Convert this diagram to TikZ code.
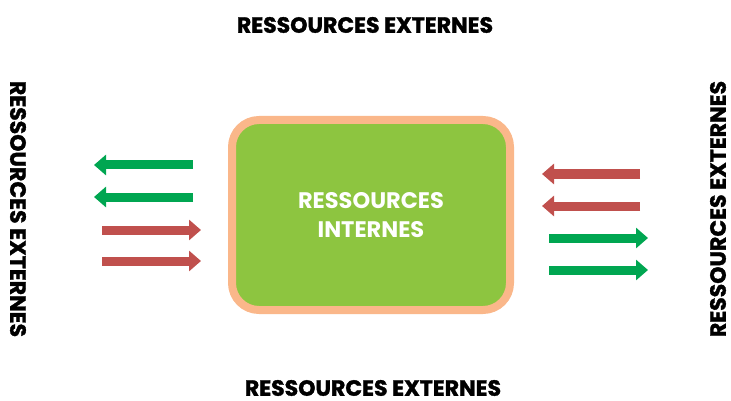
\documentclass[tikz,border=0pt]{standalone}
\usepackage{fontspec}
\setmainfont{Poppins}
\newfontfamily\heavyfont{Poppins}[BoldFeatures={FakeBold=1.5}]
\usepackage{tikz}
\usetikzlibrary{arrows.meta}

\definecolor{boxGreen}{HTML}{8DC540}
\definecolor{boxRim}{HTML}{FAB78A}
\definecolor{inGreen}{HTML}{00A651}
\definecolor{outRed}{HTML}{C0504D}

\begin{document}
\begin{tikzpicture}[x=1pt,y=-1pt,
    label/.style={font=\heavyfont\fontsize{22}{22}\selectfont\bfseries, inner sep=0pt},
    flow/.style={line width=9pt, -{Triangle[length=12pt,width=20pt]}}]
        %--- Arguments ----
        \def \cx {371} % centre of box
        \def \cy {215}
        \def \lx {102} % left arrows, short end
        \def \rx {640} % right arrows, long end
        %--- Frame ---
        \useasboundingbox (0,0) rectangle (731,401);
        %--- Box ---
        \node [draw=boxRim, line width=8pt, fill=boxGreen, rounded corners=27pt,
               minimum width=278pt, minimum height=190pt, text=white, align=center,
               font=\fontsize{22.5}{29}\selectfont\bfseries] (inner) at (\cx,\cy)
               {RESSOURCES\\INTERNES};
        %--- Outer labels ---
        \node [label] (top) at (365,25) {RESSOURCES EXTERNES};
        \node [label] (bottom) at (373,388) {RESSOURCES EXTERNES};
        \node [label, rotate=-90] (left) at (18,209) {RESSOURCES EXTERNES};
        \node [label, rotate=90] (right) at (718,209) {RESSOURCES EXTERNES};
        %--- Arrow ends ---
        % left
        \coordinate (la1) at (193,165); \coordinate (lb1) at (94,165);
        \coordinate (la2) at (193,197); \coordinate (lb2) at (94,197);
        \coordinate (la3) at (\lx,230); \coordinate (lb3) at (201,230);
        \coordinate (la4) at (\lx,261); \coordinate (lb4) at (201,261);
        % right
        \coordinate (ra1) at (\rx,174); \coordinate (rb1) at (542,174);
        \coordinate (ra2) at (\rx,206); \coordinate (rb2) at (542,206);
        \coordinate (ra3) at (549,238); \coordinate (rb3) at (648,238);
        \coordinate (ra4) at (549,270); \coordinate (rb4) at (648,270);
        %--- Arrows ---
        \draw [flow, inGreen] (la1) -- (lb1);
        \draw [flow, inGreen] (la2) -- (lb2);
        \draw [flow, outRed] (la3) -- (lb3);
        \draw [flow, outRed] (la4) -- (lb4);
        \draw [flow, outRed] (ra1) -- (rb1);
        \draw [flow, outRed] (ra2) -- (rb2);
        \draw [flow, inGreen] (ra3) -- (rb3);
        \draw [flow, inGreen] (ra4) -- (rb4);
\end{tikzpicture}
\end{document}
